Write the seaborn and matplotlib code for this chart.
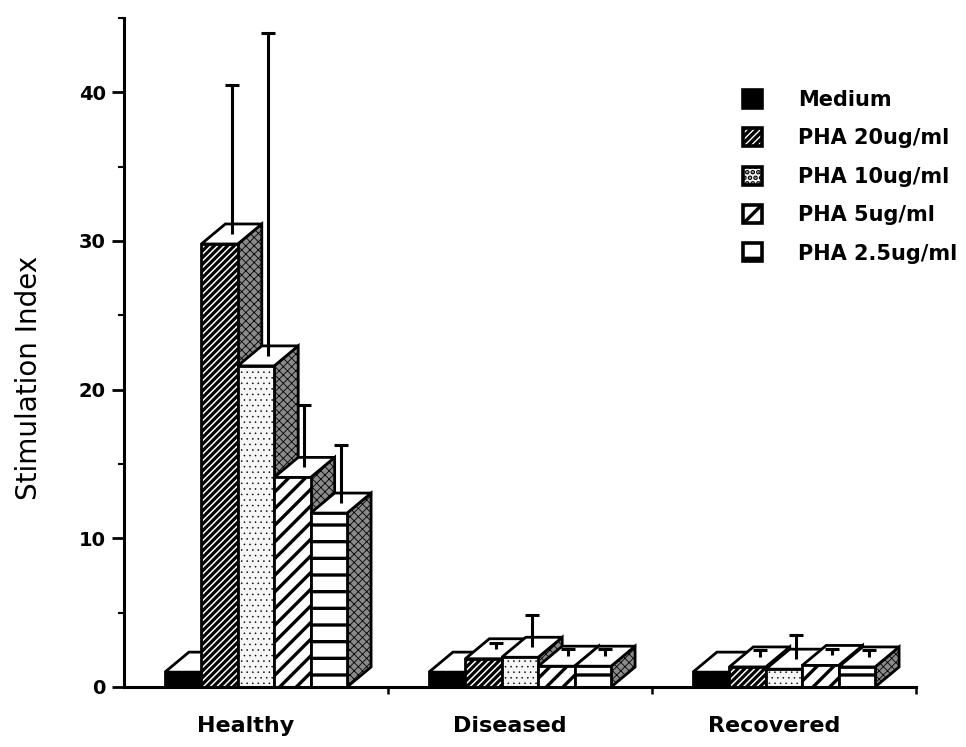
import numpy as np
import pandas as pd
import matplotlib
matplotlib.use("Agg")
import matplotlib.pyplot as plt
import seaborn as sns
from matplotlib.patches import Polygon, Patch
from matplotlib.ticker import MultipleLocator, FixedLocator
from matplotlib.transforms import ScaledTranslation

# ---------------- data ----------------
groups = ["Healthy", "Diseased", "Recovered"]
conditions = ["Medium", "PHA 20ug/ml", "PHA 10ug/ml", "PHA 5ug/ml", "PHA 2.5ug/ml"]

medium = [1.0, 1.0, 1.0]
pha20 = [29.8, 1.9, 1.35]
pha10 = [21.6, 2.0, 1.2]
pha5 = [14.1, 1.4, 1.45]
pha25 = [11.7, 1.4, 1.35]

err_medium = [0.0, 0.0, 0.0]
err_pha20 = [10.0, 0.4, 0.45]
err_pha10 = [21.7, 2.2, 1.6]
err_pha5 = [4.2, 0.45, 0.4]
err_pha25 = [3.9, 0.45, 0.45]

yticks = [0, 10, 20, 30, 40]
ylabel = "Stimulation Index"

values = [medium, pha20, pha10, pha5, pha25]
errors = [err_medium, err_pha20, err_pha10, err_pha5, err_pha25]

rows = []
for ci, cond in enumerate(conditions):
    for gi, g in enumerate(groups):
        rows.append({"group": g, "condition": cond,
                     "value": values[ci][gi], "err": errors[ci][gi]})
df = pd.DataFrame(rows)

# ---------------- styles ----------------
face_styles = [
    dict(facecolor="black", hatch=None, hlw=1.0),
    dict(facecolor="white", hatch="/////", hlw=2.3),
    dict(facecolor="#f6f6f6", hatch="...", hlw=0.35),
    dict(facecolor="white", hatch="//", hlw=2.4),
    dict(facecolor="white", hatch="-", hlw=2.4),
]
side_style = dict(facecolor="#8a8a8a", hatch="xxxx", hlw=0.6)
DX_PX, DY_PX = 24, 20

sns.set_style("white")
plt.rcParams["font.family"] = ["DejaVu Sans"]
plt.rcParams["hatch.linewidth"] = 2.4
plt.rcParams["hatch.color"] = "black"
for key in ["text.color", "axes.labelcolor", "xtick.color", "ytick.color", "axes.edgecolor"]:
    plt.rcParams[key] = "black"


def apply_style(p, st):
    p.set_facecolor(st["facecolor"])
    p.set_edgecolor("black")
    if st["hatch"]:
        p.set_hatch(st["hatch"])
    if hasattr(p, "set_hatch_linewidth"):
        p.set_hatch_linewidth(st["hlw"])


fig = plt.figure(figsize=(9.66, 7.47), dpi=100)
ax = fig.add_axes([124 / 966, 60 / 747, 792 / 966, 669 / 747])

sns.barplot(data=df, x="group", y="value", hue="condition",
            order=groups, hue_order=conditions,
            palette=["white"] * len(conditions), saturation=1,
            width=0.69, errorbar=None, edgecolor="black", linewidth=2,
            legend=False, ax=ax)

ax.set_xlim(-0.5, 2.5)
ax.set_ylim(0, 45)

p0 = ax.transData.transform((0, 0))
p1 = ax.transData.transform((1, 1))
dxd = DX_PX / (p1[0] - p0[0])
dyd = DY_PX / (p1[1] - p0[1])

bars = []
for ci, cont in enumerate(ax.containers):
    for gi, bar in enumerate(cont):
        apply_style(bar, face_styles[ci])
        bars.append((bar.get_x(), bar, ci, gi))
bars.sort(key=lambda t: t[0])

for k, (x0, bar, ci, gi) in enumerate(bars):
    w = bar.get_width()
    h = bar.get_height()
    x1 = x0 + w
    base = 3 + 3 * k
    side = Polygon([(x1, 0), (x1 + dxd, dyd), (x1 + dxd, h + dyd), (x1, h)],
                   closed=True, linewidth=2, joinstyle="miter")
    apply_style(side, side_style)
    side.set_zorder(base)
    top = Polygon([(x0, h), (x1, h), (x1 + dxd, h + dyd), (x0 + dxd, h + dyd)],
                  closed=True, linewidth=2, facecolor="white",
                  edgecolor="black", joinstyle="miter")
    top.set_zorder(base + 1)
    ax.add_patch(side)
    ax.add_patch(top)
    bar.set_zorder(base + 2)
    bar.set_joinstyle("miter")

# error bars from the centre of each bar's top face
for k, (x0, bar, ci, gi) in enumerate(bars):
    e = errors[ci][gi]
    if e <= 0:
        continue
    xc = x0 + bar.get_width() / 2 + dxd / 2
    yb = bar.get_height() + dyd / 2
    eb = ax.errorbar([xc], [yb], yerr=[[0], [e]], fmt="none", ecolor="black",
                     elinewidth=2.2, capsize=5, capthick=2.2, zorder=200)
    for cl in eb[1]:
        if np.allclose(cl.get_ydata(), yb):
            cl.set_visible(False)

# ---------------- axes styling ----------------
for s in ["top", "right"]:
    ax.spines[s].set_visible(False)
for s in ["left", "bottom"]:
    ax.spines[s].set_linewidth(2.2)
    ax.spines[s].set_color("black")
    ax.spines[s].set_zorder(300)

ax.set_yticks(yticks)
ax.set_yticklabels([str(t) for t in yticks], fontsize=14, fontweight="bold")
ax.yaxis.set_minor_locator(MultipleLocator(5))
ax.tick_params(axis="y", which="major", direction="out", length=9, width=2, pad=4, left=True)
ax.tick_params(axis="y", which="minor", direction="out", length=4, width=1.5, left=True)

ax.set_xticks(range(len(groups)))
ax.set_xticklabels(groups, fontsize=16, fontweight="bold")
ax.xaxis.set_minor_locator(FixedLocator([0.5, 1.5, 2.5]))
ax.tick_params(axis="x", which="major", length=0, pad=21)
ax.tick_params(axis="x", which="minor", direction="out", length=5, width=1.8, bottom=True)
shift = ScaledTranslation(-10 / 100, 0, fig.dpi_scale_trans)
for lab in ax.get_xticklabels():
    lab.set_transform(lab.get_transform() + shift)

ax.set_xlabel("")
ax.set_ylabel(ylabel, fontsize=20)
ax.yaxis.set_label_coords(-0.102, 0.462)

# ---------------- legend ----------------
handles = []
for st in face_styles:
    hp = Patch(facecolor=st["facecolor"], edgecolor="black",
               hatch=st["hatch"], linewidth=2.6)
    if hasattr(hp, "set_hatch_linewidth"):
        hp.set_hatch_linewidth(st["hlw"])
    handles.append(hp)
ax.legend(handles, conditions, loc="upper left", bbox_to_anchor=(0.781, 0.893),
          frameon=False, prop={"size": 15, "weight": "bold"},
          handlelength=0.95, handleheight=0.95, handletextpad=1.7,
          labelspacing=0.88, borderaxespad=0, borderpad=0)

fig.savefig("out.png", dpi=100)
